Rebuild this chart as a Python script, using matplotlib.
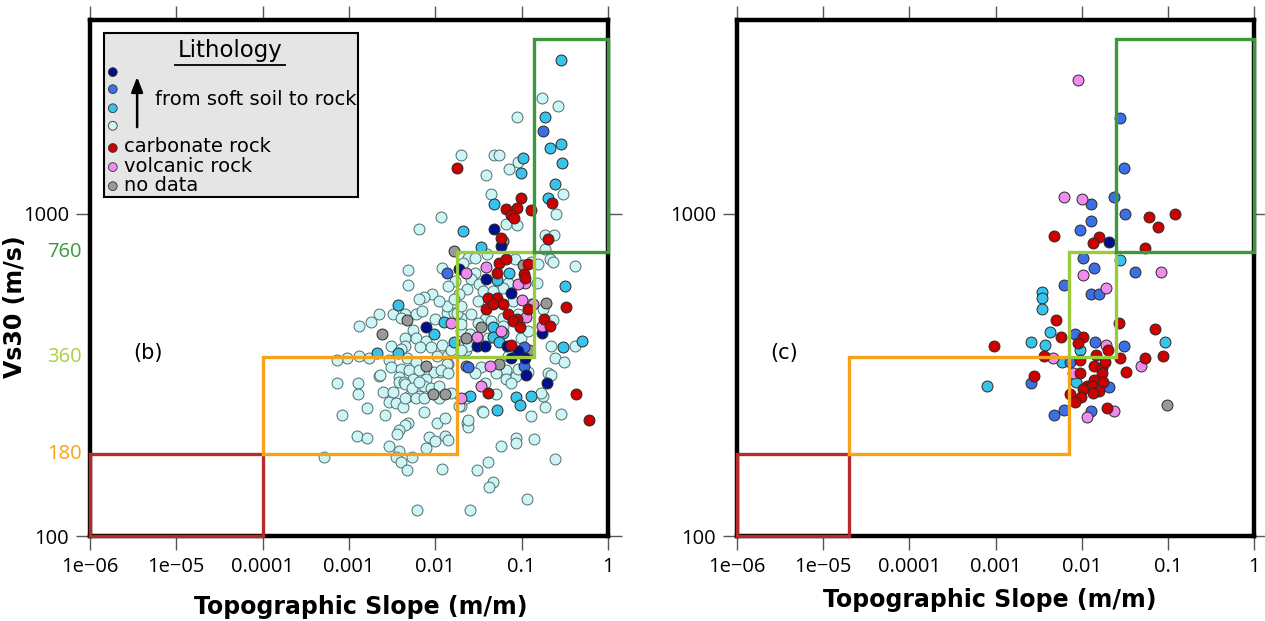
import matplotlib
matplotlib.use("Agg")
import matplotlib.pyplot as plt
from matplotlib.patches import Rectangle
import matplotlib.transforms as mtransforms

# ---------------- data: panel (b) ----------------
b_lc_slope = [0.173,0.265,0.089,0.0196,0.048,0.055,0.091,0.072,0.039,0.303,0.0446,0.251,0.0115,0.0064,0.065,0.089,0.188,0.238,0.188,0.0048,0.416,
              0.214,0.232,0.040,0.024,0.029,0.084,0.129,0.156,0.029,0.026,0.032,0.017,0.15,0.070,0.061,0.023,0.0186,0.031,0.129,0.178,0.061,0.232,
              0.0135,0.0163,0.020,0.026,0.038,0.0446,0.020,0.0255,0.041,0.099,0.22,0.416,0.245,0.31,0.0135,0.0142,0.034,0.065,0.203,0.22,0.0112,
              0.0048,0.0118,0.0091,0.0073,0.0064,0.0022,0.0018,0.0013,0.0032,0.0045,0.0059,0.007,0.004,0.010,0.0135,0.0176,0.0055,0.0045,0.0059,
              0.0077,0.0045,0.0031,0.004,0.0066,0.009,0.0121,0.015,0.0013,0.00095,0.00073,0.0017,0.0029,0.0047,0.0059,0.0104,0.0135,0.0031,0.004,
              0.0049,0.0064,0.0096,0.0115,0.0142,0.0022,0.0038,0.0055,0.0077,0.00073,0.00127,0.0224,0.0224,0.0196,0.00127,0.0023,0.0025,0.0032,
              0.0029,0.0035,0.0042,0.0016,0.00083,0.0026,0.0049,0.0064,0.0073,0.0038,0.0043,0.0073,0.0104,0.0128,0.0048,0.0045,0.0038,0.0036,
              0.00125,0.0016,0.0084,0.0098,0.0128,0.0142,0.0077,0.0029,0.0038,0.00051,0.0035,0.004,0.0053,0.0047,0.0118,0.030,0.0061,0.0255,
              0.023,0.0236,0.020,0.051,0.178,0.188,0.286,0.035,0.129,0.058,0.085,0.085,0.140,0.245,0.041,0.046,0.042,0.116,0.0044,0.0053,0.0064,
              0.0088,0.0109,0.0045,0.0059,0.0073,0.0109,0.015,0.0186,0.0224,0.029,0.038,0.050,0.065,0.087,0.119,0.169,0.036,0.076,0.091,0.0236,
              0.021,0.036,0.047,0.080,0.020,0.0316,0.061,0.024,0.0196,0.070,0.119,0.091,0.0142,0.0109,0.0163]
b_lc_vs30 = [2287,2160,2000,1523,1523,1523,1448,1378,1320,1153,1153,1000,980,899,931,925,861,861,779,671,690,
             726,710,752,731,731,726,710,700,657,629,607,620,611,611,590,586,565,538,526,508,476,470,
             494,494,476,490,473,466,434,425,413,413,390,390,356,348,363,343,334,327,320,317,322,
             603,680,565,553,545,490,463,450,490,490,490,501,476,473,519,494,437,413,413,
             404,390,390,382,385,385,393,377,361,358,351,358,351,356,346,361,343,334,331,
             327,327,322,327,320,315,311,308,308,298,298,410,377,456,275,317,279,279,
             260,258,251,249,237,237,273,273,293,300,300,242,224,232,225,221,213,208,
             205,201,203,197,205,198,187,190,183,176,176,170,176,160,162,160,120,120,
             225,218,253,275,273,251,240,244,235,190,201,194,200,174,170,147,142,130,296,289,300,
             289,293,269,269,269,269,277,254,269,320,298,320,308,315,322,277,242,298,331,229,
             705,577,577,538,519,460,450,390,377,363,434,490,598,538,545]

b_cyan_slope = [0.286,0.188,0.214,0.286,0.295,0.105,0.099,0.245,0.203,0.048,0.021,0.034,0.0037,0.0096,0.0125,0.0021,0.0037,0.052,0.072,0.32,
                0.047,0.060,0.0163,0.047,0.054,0.303,0.5,0.025,0.087,0.096,0.129,0.052]
b_cyan_vs30 = [3000,2000,1600,1650,1440,1490,1340,1240,1120,1074,886,790,523,425,463,371,369,625,657,598,
               444,428,399,416,399,385,402,273,271,256,273,247]

b_blue_slope = [0.0135,0.107,0.024,0.107,0.178]
b_blue_vs30 = [657,385,334,336,1807]

b_dblue_slope = [0.048,0.057,0.019,0.039,0.076,0.0077,0.173,0.030,0.038,0.067,0.091,0.076,0.113,0.198,0.110]
b_dblue_vs30 = [899,796,676,629,569,447,428,390,390,390,374,356,317,298,356]

b_pink_slope = [0.0224,0.039,0.110,0.091,0.102,0.113,0.173,0.015,0.030,0.043,0.034,0.0196,0.136,0.058]
b_pink_vs30 = [657,685,611,607,542,480,450,460,416,338,293,269,526,434]

b_gray_slope = [0.060,0.0163,0.105,0.0047,0.0024,0.193,0.034,0.0224,0.123,0.0077,0.0224,0.054,0.0093,0.0131]
b_gray_vs30 = [825,768,695,470,425,530,447,413,377,336,338,341,275,275]

b_red_slope = [0.018,0.226,0.099,0.065,0.089,0.076,0.082,0.129,0.203,0.058,0.055,0.066,0.052,0.107,0.110,0.041,0.052,0.061,0.039,0.047,
               0.328,0.119,0.070,0.089,0.080,0.096,0.183,0.214,0.076,0.041,0.428,0.60,0.119]
b_red_vs30 = [1390,1080,1120,1036,1044,993,972,1029,837,843,705,726,657,652,634,550,550,526,505,526,
              515,508,490,473,466,444,473,450,393,277,275,229,700]

# ---------------- data: panel (c) ----------------
c_red_slope = [0.060,0.12,0.077,0.0048,0.016,0.0135,0.054,0.005,0.027,0.071,0.0057,0.0103,0.009,0.00095,0.020,0.0037,0.0146,0.028,0.054,0.087,
               0.0095,0.0139,0.017,0.0186,0.033,0.0028,0.0095,0.0172,0.0115,0.0139,0.0176,0.0131,0.0103,0.0158,0.0135,0.0073,0.0098,0.0083,0.0196]
c_red_vs30 = [980,1000,910,855,850,815,785,470,460,440,416,416,396,390,379,361,366,356,356,363,
              353,336,333,346,322,315,320,320,293,306,300,293,287,281,277,275,271,260,249]

c_blue_slope = [0.028,0.031,0.024,0.013,0.032,0.013,0.0095,0.0103,0.014,0.042,0.0062,0.013,0.0158,0.0083,0.0142,0.031,0.0073,0.0026,0.0207,
                0.0048,0.0062,0.0128]
c_blue_vs30 = [1980,1390,1130,1070,1000,950,890,730,680,660,600,565,565,425,399,388,346,298,291,237,247,244]

c_dblue_slope = [0.021]
c_dblue_vs30 = [820]

c_cyan_slope = [0.028,0.0035,0.0035,0.0035,0.0043,0.0026,0.0038,0.092,0.0095,0.0059,0.00079,0.0086]
c_cyan_vs30 = [720,574,550,505,431,399,393,399,379,346,293,300]

c_pink_slope = [0.009,0.0062,0.010,0.083,0.0103,0.019,0.019,0.0046,0.049,0.0079,0.0236,0.0115]
c_pink_vs30 = [2600,1130,1110,660,647,590,393,358,338,320,244,234]

c_gray_slope = [0.098]
c_gray_vs30 = [256]

# class limits (Vs30 thresholds) and slope limits
vs_levels = [100, 180, 360, 760, 3500]
b_slope_limits = [1e-6, 1e-4, 0.018, 0.138, 1.0]
c_slope_limits = [1e-6, 2e-5, 0.0072, 0.025, 1.0]
box_colors = ['#b52a2a', '#f5a31a', '#9ccc3c', '#3b993b']

xticks = [1e-6, 1e-5, 1e-4, 1e-3, 1e-2, 1e-1, 1]
xticklabels = ['1e\u221206', '1e\u221205', '0.0001', '0.001', '0.01', '0.1', '1']
yticks = [100, 1000]
yticklabels = ['100', '1000']

C_LC = '#cdf5f5'
C_CYAN = '#38c3ec'
C_BLUE = '#3b6fe6'
C_DBLUE = '#000f8c'
C_RED = '#cc0000'
C_PINK = '#f08cf0'
C_GRAY = '#999999'

TICKFONT = 'Open Sans'
LABFONT = 'DejaVu Sans'

fig = plt.figure(figsize=(12.65, 6.21), dpi=100)
axb = fig.add_axes([90/1265, 85/621, 518/1265, 516/621])
axc = fig.add_axes([737/1265, 85/621, 517/1265, 516/621])


def setup(ax, slope_limits):
    ax.set_xscale('log')
    ax.set_yscale('log')
    ax.set_xlim(1e-6, 1)
    ax.set_ylim(100, 4000)
    ax.set_xticks(xticks)
    ax.set_xticklabels(xticklabels, fontfamily=TICKFONT, fontsize=14.5)
    ax.set_yticks(yticks)
    ax.set_yticklabels(yticklabels, fontfamily=TICKFONT, fontsize=14.5)
    ax.minorticks_off()
    ax.tick_params(direction='out', length=10, width=1, color='#555555', pad=5,
                   top=True, right=True, labeltop=False, labelright=False)
    for s in ax.spines.values():
        s.set_linewidth(3.2)
        s.set_color('black')
    for i in range(4):
        x0, x1 = slope_limits[i], slope_limits[i + 1]
        y0, y1 = vs_levels[i], vs_levels[i + 1]
        ax.plot([x0, x0, x1, x1, x0], [y0, y1, y1, y0, y0], color=box_colors[i],
                lw=2.4, zorder=4, clip_on=False, solid_joinstyle='miter')


def pts(ax, xs, ys, fc, ec='#2a2a2a', z=3):
    ax.scatter(xs, ys, s=62, facecolor=fc, edgecolor=ec, linewidth=0.7, zorder=z)


setup(axb, b_slope_limits)
setup(axc, c_slope_limits)

pts(axb, b_lc_slope, b_lc_vs30, C_LC, ec='#4f6e6e', z=2)
pts(axb, b_gray_slope, b_gray_vs30, C_GRAY)
pts(axb, b_cyan_slope, b_cyan_vs30, C_CYAN)
pts(axb, b_blue_slope, b_blue_vs30, C_BLUE)
pts(axb, b_dblue_slope, b_dblue_vs30, C_DBLUE)
pts(axb, b_pink_slope, b_pink_vs30, C_PINK)
pts(axb, b_red_slope, b_red_vs30, C_RED)

pts(axc, c_gray_slope, c_gray_vs30, C_GRAY)
pts(axc, c_cyan_slope, c_cyan_vs30, C_CYAN)
pts(axc, c_blue_slope, c_blue_vs30, C_BLUE)
pts(axc, c_dblue_slope, c_dblue_vs30, C_DBLUE)
pts(axc, c_pink_slope, c_pink_vs30, C_PINK)
pts(axc, c_red_slope, c_red_vs30, C_RED)

# colored Vs30 class labels on the y axis of panel (b)
trans = mtransforms.blended_transform_factory(axb.transAxes, axb.transData)
for v, col in zip([180, 360, 760], ['#f5a31a', '#a8d040', '#3b993b']):
    axb.text(-0.016, v, str(v), transform=trans, ha='right', va='center',
             color=col, fontfamily=TICKFONT, fontsize=14.5)

# axis labels
axb.set_ylabel('Vs30 (m/s)', fontfamily=LABFONT, fontweight='bold', fontsize=17)
axb.yaxis.set_label_coords(-0.122, 0.445)
axb.set_xlabel('Topographic Slope (m/m)', fontfamily=LABFONT, fontweight='bold', fontsize=17, labelpad=14)
axb.xaxis.set_label_coords(0.523, -0.115)
axc.set_xlabel('Topographic Slope (m/m)', fontfamily=LABFONT, fontweight='bold', fontsize=17, labelpad=6)
axc.xaxis.set_label_coords(0.488, -0.1)

axb.text(0.083, 0.355, '(b)', transform=axb.transAxes, fontfamily=LABFONT, fontsize=15, va='center')
axc.text(0.064, 0.355, '(c)', transform=axc.transAxes, fontfamily=LABFONT, fontsize=15, va='center')

# legend box
T = axb.transAxes
axb.add_patch(Rectangle((0.027, 0.657), 0.490, 0.318, transform=T, facecolor='#e5e5e5',
                        edgecolor='black', linewidth=1.5, zorder=6))
axb.text(0.270, 0.940, 'Lithology', transform=T, ha='center', va='center', fontfamily=LABFONT,
         fontsize=16.5, zorder=7)
axb.plot([0.164, 0.377], [0.912, 0.912], transform=T, color='black', lw=1.3, zorder=7)
leg_y = [0.899, 0.866, 0.829, 0.795, 0.752, 0.715, 0.678]
leg_c = [C_DBLUE, C_BLUE, C_CYAN, C_LC, C_RED, C_PINK, C_GRAY]
axb.scatter([0.044] * 7, leg_y, s=40, c=leg_c, edgecolors='#333333', linewidths=0.6,
            transform=T, zorder=8, clip_on=False)
axb.annotate('', xy=(0.091, 0.895), xytext=(0.091, 0.787), xycoords=T, textcoords=T,
             arrowprops=dict(arrowstyle='-|>,head_width=0.35,head_length=0.9', color='black', lw=1.8),
             zorder=8)
axb.text(0.125, 0.845, 'from soft soil to rock', transform=T, va='center', fontfamily=LABFONT,
         fontsize=14, zorder=8)
for yy, tx in zip([0.754, 0.717, 0.680], ['carbonate rock', 'volcanic rock', 'no data']):
    axb.text(0.066, yy, tx, transform=T, va='center', fontfamily=LABFONT, fontsize=14, zorder=8)

fig.savefig('out.png', dpi=100)
